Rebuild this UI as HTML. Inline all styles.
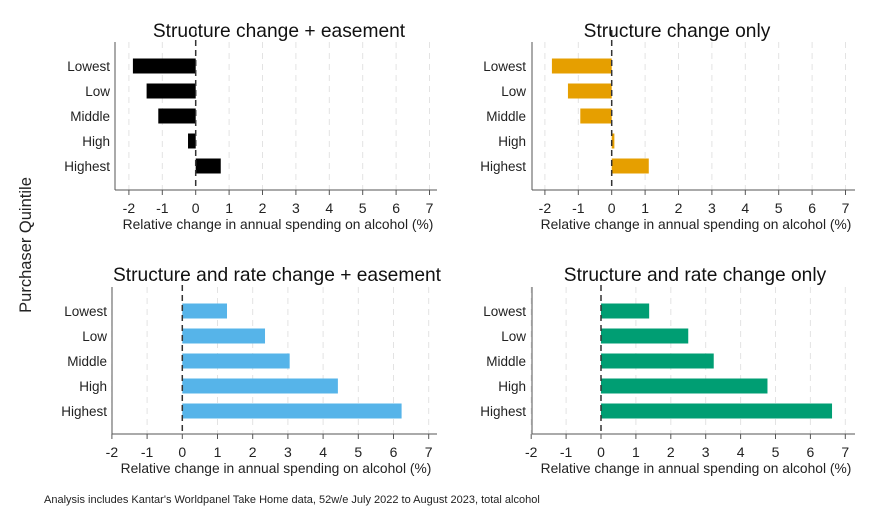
<!DOCTYPE html>
<html><head><meta charset="utf-8"><style>
body{margin:0;background:#fff;}
svg{display:block;font-family:"Liberation Sans",Arial,sans-serif;}
</style></head><body>
<svg id="chart" width="888" height="528" viewBox="0 0 888 528">
<text x="31" y="245" transform="rotate(-90 31 245)" text-anchor="middle" font-size="16.5" fill="#222">Purchaser Quintile</text>
<text x="44" y="503" font-size="11" fill="#222">Analysis includes Kantar's Worldpanel Take Home data, 52w/e July 2022 to August 2023, total alcohol</text>
</svg>
<script>
const categories = ["Lowest","Low","Middle","High","Highest"];
const ticks = [-2,-1,0,1,2,3,4,5,6,7];
const titles = ["Structure change + easement","Structure change only","Structure and rate change + easement","Structure and rate change only"];
const seriesA = [-1.88,-1.47,-1.12,-0.23,0.75];
const seriesB = [-1.79,-1.31,-0.94,0.08,1.11];
const seriesC = [1.27,2.35,3.05,4.42,6.23];
const seriesD = [1.38,2.50,3.23,4.77,6.62];
const colors = ["#000000","#e69f00","#56b4e9","#009e73"];
const panels = [
 {x0:195.7, unit:33.4, spineL:115, axisR:437, top:42, bottom:190, first:66, labelR:110, title:30, tc:279, xc:278, data:seriesA, name:'panel-structure-easement'},
 {x0:611.7, unit:33.4, spineL:532, axisR:855, top:42, bottom:190, first:66, labelR:526, title:30, tc:677, xc:696, data:seriesB, name:'panel-structure-only'},
 {x0:182.3, unit:35.2, spineL:112, axisR:437, top:287, bottom:434, first:311, labelR:107, title:274, tc:277, xc:276, data:seriesC, name:'panel-rate-easement'},
 {x0:601, unit:34.9, spineL:532, axisR:855, top:287, bottom:434, first:311, labelR:526, title:274, tc:695, xc:696, data:seriesD, name:'panel-rate-only'}
];
const NS="http://www.w3.org/2000/svg";
const svg=document.getElementById('chart');
function mk(tag,attrs,parent){const e=document.createElementNS(NS,tag);for(const k in attrs)e.setAttribute(k,attrs[k]);(parent||svg).appendChild(e);return e;}
panels.forEach((p,pi)=>{
  const g=mk('g',{});
  
  
  const xs=v=>p.x0+v*p.unit;
  const ys=i=>p.first+i*25;
  ticks.forEach(t=>{
    if(t!==0){const gl=mk('line',{x1:xs(t),x2:xs(t),y1:p.top,y2:p.bottom,stroke:'#e3e3e3','stroke-width':1,'stroke-dasharray':'6,5'},g);
    
    }
    const tk=mk('line',{x1:xs(t),x2:xs(t),y1:p.bottom,y2:p.bottom+5,stroke:'#555'},g);
    
    
    const tl=mk('text',{x:xs(t),y:p.bottom+23,'text-anchor':'middle','font-size':14,fill:'#222'},g);
    tl.textContent=t;
    
    
  });
  p.data.forEach((v,i)=>{
    const r=mk('rect',{x:Math.min(xs(0),xs(v)),y:ys(i)-7.5,width:Math.abs(xs(v)-xs(0)),height:15,fill:colors[pi]},g);
    
    
    const l=mk('text',{x:p.labelR,y:ys(i)+5,'text-anchor':'end','font-size':13.5,fill:'#222'},g);
    l.textContent=categories[i];
    
    
  });
  const zl=mk('line',{x1:xs(0),x2:xs(0),y1:p.top-12,y2:p.bottom,stroke:'#333','stroke-width':1.5,'stroke-dasharray':'6,4'},g);
  
  
  const ax=mk('line',{x1:p.spineL,x2:p.axisR,y1:p.bottom,y2:p.bottom,stroke:'#555'},g);
  
  
  const ay=mk('line',{x1:p.spineL,x2:p.spineL,y1:p.top,y2:p.bottom,stroke:'#555'},g);
  
  
  const xt=mk('text',{x:p.xc,y:p.bottom+39,'text-anchor':'middle','font-size':13.8,fill:'#222'},g);
  xt.textContent='Relative change in annual spending on alcohol (%)';
  
  
  const tt=mk('text',{x:p.tc,y:p.title+7,'text-anchor':'middle','font-size':19.2,fill:'#111'},g);
  tt.textContent=titles[pi];
  
  
});
</script>
</body></html>
